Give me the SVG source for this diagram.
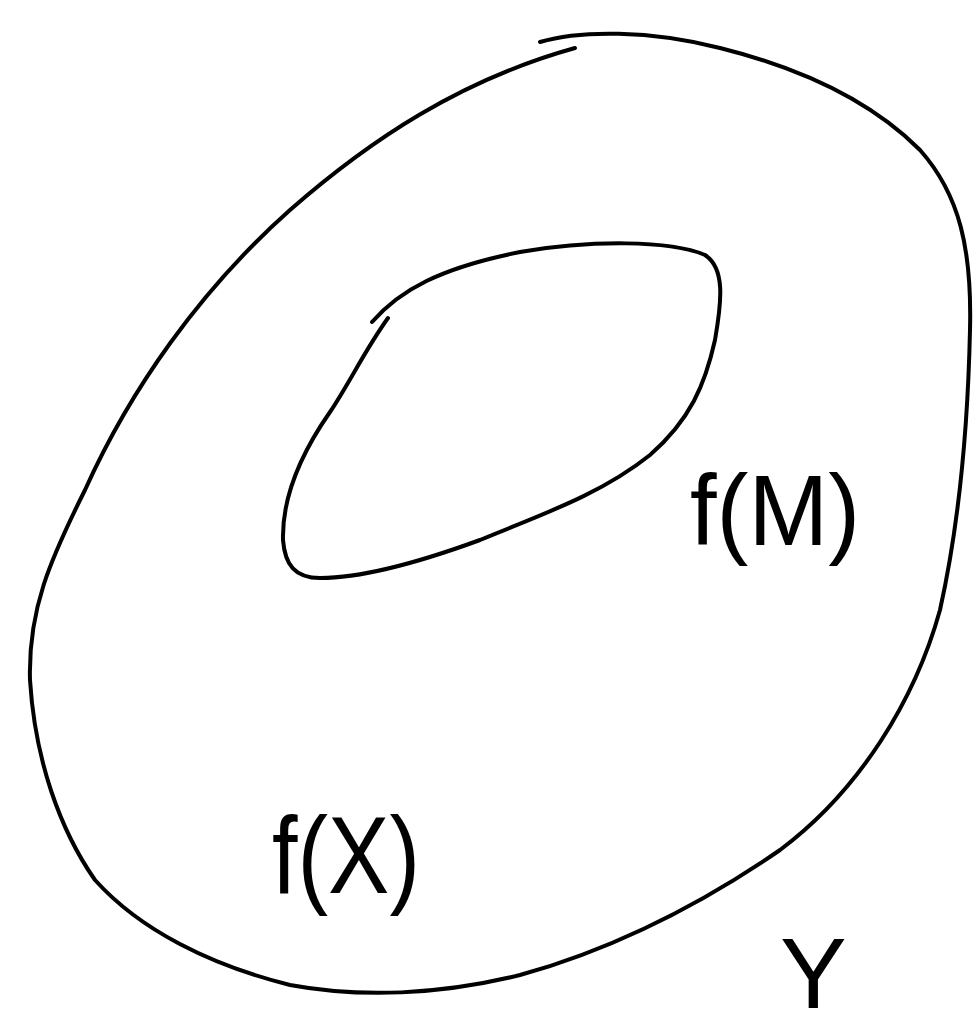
<svg xmlns="http://www.w3.org/2000/svg" width="975" height="1034" viewBox="0 0 975 1034">
<style>
.c{fill:none;stroke:#000;stroke-width:4;stroke-linecap:round;stroke-linejoin:round}
.t{font-family:"Liberation Sans",Arial,sans-serif;fill:#000}
</style>
<rect width="975" height="1034" fill="#fff"/>
<g id="outer">
<path class="c" d="M540,42 C580,30 650,30 720,48 C800,68 870,100 920,150 C960,195 972,250 970,330 C968,420 960,520 940,610 C915,700 860,790 780,850 C700,905 610,950 520,975 C440,995 360,998 290,985 C210,965 140,930 95,880 C60,830 35,760 30,680 C28,610 50,560 85,490 C130,390 200,290 290,210 C370,140 460,80 575,48"/>
</g>
<g id="inner">
<path class="c" d="M372,322 C400,290 440,268 520,252 C590,240 670,240 705,255 C725,268 722,300 715,340 C705,385 690,420 650,455 C600,495 540,515 480,540 C420,562 360,578 320,578 C295,578 285,565 283,540 C282,500 300,455 330,412 C350,382 365,350 388,318"/>
</g>
<g id="labels">
<text class="t" x="690" y="545" font-size="100" textLength="170" lengthAdjust="spacingAndGlyphs">f(M)</text>
<text class="t" x="272" y="893" font-size="110" textLength="148" lengthAdjust="spacingAndGlyphs">f(X)</text>
<text class="t" x="780" y="1008" font-size="100">Y</text>
</g>
</svg>
